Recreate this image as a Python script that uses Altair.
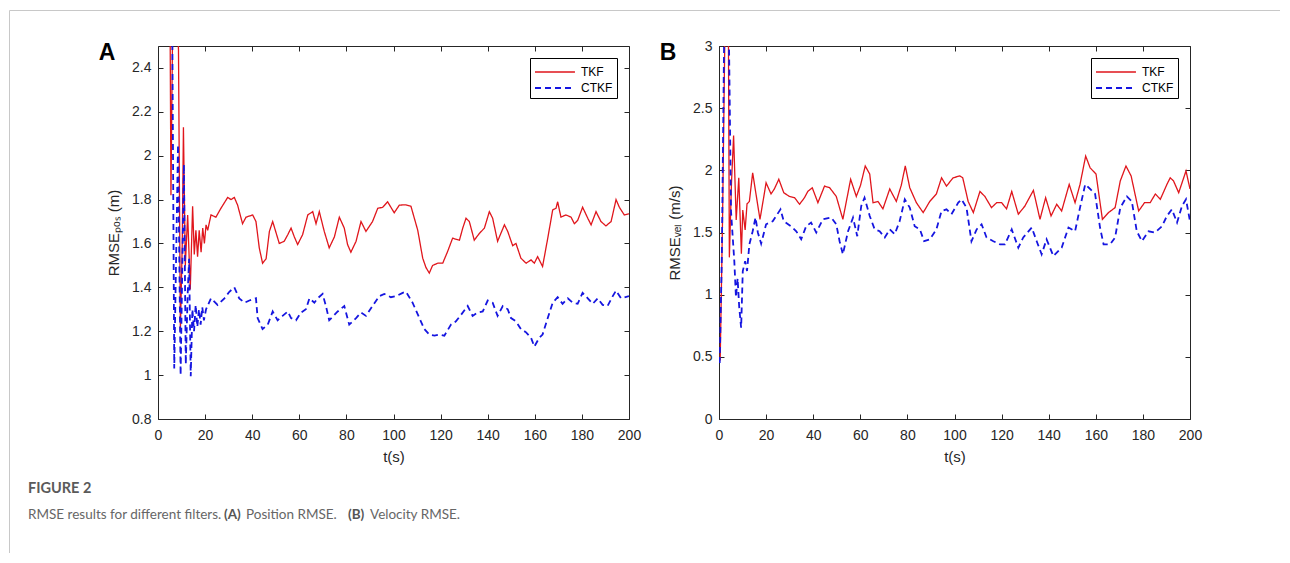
import altair as alt
import pandas as pd

# ---------------- data ----------------
series_names = ["TKF", "CTKF"]
series_colors = ["#e0161c", "#1515e0"]
series_dash = [[1, 0], [6, 4]]
series_width = [1.3, 1.8]

x_ticks = [0, 20, 40, 60, 80, 100, 120, 140, 160, 180, 200]
t_domain = [0, 200]

pos_domain = [0.8, 2.5]
pos_y_ticks = [0.8, 1.0, 1.2, 1.4, 1.6, 1.8, 2.0, 2.2, 2.4]
vel_domain = [0, 3]
vel_y_ticks = [0, 0.5, 1, 1.5, 2, 2.5, 3]

# (t, RMSE) pairs, panel A (position)
pos_tkf = [
    (0, 3.4), (2, 3.2), (4, 3.0), (5.0, 2.9), (5.5, 1.82), (6.5, 2.9), (8.0, 2.7), (8.7, 2.48),
    (9.5, 1.2), (10.3, 1.6), (10.8, 2.13), (11.6, 1.5), (12.6, 1.73), (13.7, 1.39), (14.7, 1.77),
    (15.4, 1.55), (16.1, 1.66), (16.8, 1.54), (17.5, 1.66), (18.3, 1.56), (19.0, 1.67), (19.7, 1.6),
    (20.4, 1.685), (21.1, 1.66), (22.5, 1.73), (24.6, 1.72), (26.7, 1.76), (29.6, 1.81), (31.0, 1.80),
    (32.4, 1.81), (33.8, 1.775), (35.9, 1.69), (37.4, 1.72), (40.2, 1.73), (41.6, 1.70), (43.0, 1.58),
    (44.4, 1.51), (45.9, 1.53), (47.3, 1.655), (48.7, 1.70), (50.1, 1.65), (51.5, 1.60), (53.6, 1.61),
    (55.1, 1.64), (56.5, 1.67), (57.9, 1.63), (59.3, 1.595), (61.4, 1.64), (63.6, 1.73), (65.7, 1.745),
    (67.1, 1.69), (68.5, 1.745), (70.6, 1.655), (72.7, 1.58), (74.9, 1.63), (77.0, 1.72), (79.1, 1.67),
    (80.5, 1.595), (81.9, 1.56), (84.1, 1.61), (86.2, 1.70), (88.3, 1.655), (91.1, 1.70), (93.3, 1.76),
    (95.4, 1.765), (97.5, 1.79), (100.3, 1.74), (102.5, 1.775), (105.3, 1.776), (107.4, 1.77),
    (110.3, 1.66), (112.4, 1.533), (113.8, 1.49), (115.2, 1.465), (116.6, 1.50), (118.8, 1.51),
    (120.9, 1.51), (123.0, 1.564), (125.1, 1.624), (128.0, 1.615), (129.4, 1.67), (130.8, 1.715),
    (132.2, 1.70), (134.3, 1.615), (136.4, 1.645), (138.6, 1.67), (140.7, 1.745), (142.1, 1.715),
    (144.2, 1.61), (147.1, 1.685), (148.5, 1.655), (150.6, 1.59), (152.0, 1.60), (154.1, 1.533),
    (156.3, 1.51), (158.4, 1.525), (159.8, 1.51), (161.2, 1.54), (163.3, 1.495), (165.5, 1.624),
    (167.6, 1.753), (169.0, 1.76), (169.7, 1.79), (171.1, 1.72), (173.2, 1.73), (175.4, 1.72),
    (176.8, 1.69), (178.2, 1.705), (180.3, 1.765), (182.5, 1.715), (183.9, 1.685), (186.0, 1.745),
    (188.1, 1.70), (190.2, 1.68), (192.4, 1.70), (194.5, 1.80), (195.9, 1.765), (198.0, 1.73),
    (200.0, 1.735),
]
pos_ctkf = [
    (0, 3.6), (3, 3.3), (6.0, 2.7), (6.9, 1.03), (8.5, 2.05), (9.6, 1.0), (11.0, 1.96), (11.8, 1.05),
    (12.6, 1.37), (13.2, 1.53), (13.9, 0.995), (14.6, 1.3), (15.3, 1.2), (16.0, 1.32), (16.7, 1.22),
    (17.4, 1.3), (18.1, 1.23), (18.8, 1.31), (19.5, 1.25), (20.4, 1.30), (22.5, 1.35), (25.3, 1.32),
    (28.2, 1.35), (30.3, 1.38), (32.4, 1.40), (34.5, 1.35), (36.7, 1.33), (38.8, 1.34), (41.6, 1.35),
    (42.3, 1.26), (44.4, 1.21), (46.6, 1.23), (48.7, 1.29), (50.8, 1.25), (52.9, 1.27), (55.1, 1.29),
    (56.5, 1.26), (58.6, 1.25), (60.7, 1.285), (62.8, 1.30), (64.3, 1.35), (66.4, 1.33), (67.8, 1.35),
    (69.9, 1.37), (71.3, 1.315), (72.7, 1.25), (76.3, 1.29), (79.1, 1.315), (81.2, 1.23), (84.1, 1.26),
    (86.2, 1.285), (88.3, 1.27), (91.1, 1.315), (94.0, 1.36), (96.1, 1.37), (98.9, 1.355),
    (101.1, 1.36), (103.9, 1.375), (105.3, 1.38), (108.1, 1.33), (111.0, 1.26), (113.1, 1.21),
    (115.2, 1.185), (117.4, 1.18), (119.5, 1.185), (121.6, 1.18), (124.4, 1.23), (126.5, 1.245),
    (128.7, 1.275), (131.5, 1.315), (133.6, 1.27), (135.7, 1.285), (137.9, 1.29), (140.0, 1.34),
    (142.1, 1.33), (144.2, 1.27), (146.4, 1.315), (148.5, 1.30), (149.9, 1.26), (152.0, 1.245),
    (154.1, 1.21), (156.3, 1.195), (158.4, 1.17), (159.8, 1.13), (161.9, 1.17), (163.3, 1.185),
    (165.5, 1.26), (167.6, 1.33), (169.7, 1.355), (171.8, 1.325), (174.0, 1.35), (176.1, 1.33),
    (178.2, 1.325), (180.3, 1.375), (182.5, 1.35), (184.6, 1.325), (186.7, 1.35), (188.8, 1.32),
    (190.9, 1.315), (193.1, 1.36), (194.5, 1.385), (196.6, 1.35), (200.0, 1.36),
]

# (t, RMSE) pairs, panel B (velocity)
vel_tkf = [
    (0.5, 0.47), (1.5, 1.6), (2.5, 3.1), (3.3, 3.5), (4.0, 3.1), (4.4, 1.30), (5.3, 1.9), (6.2, 2.28),
    (7.3, 1.6), (8.4, 1.94), (9.5, 1.33), (10.1, 1.68), (11.1, 1.52), (11.9, 1.73), (12.9, 1.75),
    (14.3, 1.98), (15.7, 1.81), (17.4, 1.606), (18.6, 1.74), (20.0, 1.90), (22.1, 1.81), (23.5, 1.85),
    (25.4, 1.928), (27.5, 1.82), (29.9, 1.79), (32.1, 1.78), (34.2, 1.727), (36.3, 1.78), (37.7, 1.83),
    (39.6, 1.86), (42.0, 1.74), (44.8, 1.873), (47.0, 1.86), (49.8, 1.79), (52.6, 1.606), (55.9, 1.928),
    (58.3, 1.79), (60.1, 1.88), (62.1, 2.035), (64.0, 1.97), (65.4, 1.74), (67.5, 1.75), (69.6, 1.69),
    (72.5, 1.85), (75.3, 1.75), (77.4, 1.88), (79.1, 2.035), (81.0, 1.86), (83.8, 1.74), (86.7, 1.66),
    (89.5, 1.75), (92.3, 1.81), (94.5, 1.94), (96.6, 1.873), (99.4, 1.94), (102.3, 1.955),
    (103.5, 1.94), (105.8, 1.75), (108.0, 1.66), (110.8, 1.83), (112.9, 1.79), (115.7, 1.70),
    (117.9, 1.74), (120.0, 1.74), (122.1, 1.69), (124.3, 1.83), (127.1, 1.647), (129.9, 1.713),
    (133.5, 1.839), (136.3, 1.606), (138.7, 1.78), (141.0, 1.633), (143.4, 1.727), (145.5, 1.673),
    (148.7, 1.887), (151.2, 1.74), (153.3, 1.887), (155.7, 2.115), (157.6, 2.02), (160.1, 1.97),
    (162.8, 1.606), (165.4, 1.66), (168.2, 1.70), (170.4, 1.915), (172.8, 2.035), (175.0, 1.955),
    (178.2, 1.673), (180.7, 1.74), (183.1, 1.74), (185.3, 1.81), (187.4, 1.767), (190.2, 1.887),
    (191.6, 1.94), (193.0, 1.915), (195.2, 1.82), (198.3, 1.995), (200.0, 1.85),
]
vel_ctkf = [
    (0.3, 0.45), (1.2, 1.3), (2.2, 3.1), (3.0, 3.6), (4.2, 3.1), (5.1, 1.67), (6.5, 1.27), (7.2, 0.98),
    (7.9, 1.13), (8.6, 0.895), (9.4, 0.734), (10.1, 1.19), (11.1, 1.27), (11.9, 1.19), (12.9, 1.405),
    (14.3, 1.51), (15.5, 1.62), (16.5, 1.50), (17.9, 1.41), (20.0, 1.566), (22.8, 1.59), (26.1, 1.686),
    (27.5, 1.59), (30.6, 1.55), (32.8, 1.51), (34.9, 1.445), (37.0, 1.55), (39.1, 1.58), (41.3, 1.50),
    (44.1, 1.606), (47.7, 1.62), (49.8, 1.566), (51.2, 1.43), (52.6, 1.325), (54.8, 1.51), (56.9, 1.62),
    (58.7, 1.47), (60.4, 1.713), (61.8, 1.78), (64.0, 1.633), (66.1, 1.525), (68.2, 1.51), (70.4, 1.46),
    (72.5, 1.525), (74.6, 1.486), (76.7, 1.59), (78.9, 1.767), (81.0, 1.70), (83.1, 1.55), (85.3, 1.525),
    (87.1, 1.43), (89.5, 1.445), (92.3, 1.525), (94.5, 1.673), (96.6, 1.686), (98.7, 1.647),
    (101.6, 1.74), (103.0, 1.767), (105.1, 1.70), (107.2, 1.43), (109.4, 1.525), (111.5, 1.566),
    (113.6, 1.46), (116.5, 1.43), (119.3, 1.405), (121.4, 1.405), (124.3, 1.525), (127.1, 1.378),
    (129.2, 1.46), (132.8, 1.54), (134.9, 1.43), (137.0, 1.325), (139.1, 1.445), (142.0, 1.31),
    (145.5, 1.378), (148.4, 1.54), (151.2, 1.51), (153.3, 1.70), (155.5, 1.887), (157.6, 1.85),
    (159.7, 1.81), (161.8, 1.54), (163.3, 1.405), (166.1, 1.405), (168.2, 1.46), (170.4, 1.70),
    (173.2, 1.79), (175.3, 1.75), (177.4, 1.51), (179.6, 1.43), (182.4, 1.51), (185.2, 1.50),
    (188.1, 1.55), (190.2, 1.633), (192.3, 1.686), (194.5, 1.58), (196.6, 1.713), (198.3, 1.767),
    (200.0, 1.59),
]

# ---------------- styling ----------------
W, H = 471, 373
FONT = "Liberation Sans"
CAP_FONT = "Lato"
INK = "#262626"
FRAME = "#c8c8c8"


def long_df(tkf, ctkf):
    rows = [{"t": t, "v": v, "series": "TKF"} for t, v in tkf]
    rows += [{"t": t, "v": v, "series": "CTKF"} for t, v in ctkf]
    return pd.DataFrame(rows)


def panel(df, ydomain, yticks, ytitle, letter, extra=()):
    xs = alt.Scale(domain=t_domain, nice=False, zero=False)
    ys = alt.Scale(domain=ydomain, nice=False, zero=False)
    legend = alt.Legend(
        title=None, orient="top-right", offset=12, fillColor="white", strokeColor="black",
        padding=4, symbolType="M-1,0H3.44", symbolSize=324, symbolStrokeWidth=1.4,
        labelFont=FONT, labelFontSize=12, labelColor="black", labelOffset=27, rowPadding=0,
    )
    lines = alt.Chart(df).mark_line(clip=True).encode(
        x=alt.X("t:Q", scale=xs, axis=alt.Axis(
            orient="bottom", values=x_ticks, title="t(s)", ticks=False, domain=False, grid=False,
            labelFont=FONT, labelFontSize=14, labelColor=INK, labelPadding=9, labelFlush=False,
            titleFont=FONT, titleFontSize=15, titleFontWeight="normal", titleColor=INK, titlePadding=7)),
        y=alt.Y("v:Q", scale=ys, axis=alt.Axis(
            orient="left", values=yticks, format="~g", title=ytitle, ticks=False, domain=False,
            grid=False, labelFont=FONT, labelFontSize=14, labelColor=INK, labelPadding=7,
            labelFlush=False, titleFont=FONT, titleFontSize=15, titleFontWeight="normal",
            titleColor=INK, titlePadding=10)),
        color=alt.Color("series:N", scale=alt.Scale(domain=series_names, range=series_colors),
                        legend=legend),
        strokeDash=alt.StrokeDash("series:N", scale=alt.Scale(domain=series_names, range=series_dash),
                                  legend=legend),
        strokeWidth=alt.StrokeWidth("series:N", scale=alt.Scale(domain=series_names, range=series_width),
                                    legend=None),
    )
    ends = pd.DataFrame({"t": t_domain, "v": ydomain})
    tick_opts = dict(labels=False, domain=False, grid=False, ticks=True, tickSize=5,
                     tickColor=INK, tickWidth=1, title=None)
    inner_bl = alt.Chart(ends).mark_point(opacity=0, clip=True).encode(
        x=alt.X("t:Q", scale=xs, axis=alt.Axis(orient="top", offset=-H, values=x_ticks, **tick_opts)),
        y=alt.Y("v:Q", scale=ys, axis=alt.Axis(orient="right", offset=-W, values=yticks, **tick_opts)),
    )
    inner_tr = alt.Chart(ends).mark_point(opacity=0, clip=True).encode(
        x=alt.X("t:Q", scale=xs, axis=alt.Axis(orient="bottom", offset=-H, values=x_ticks, **tick_opts)),
        y=alt.Y("v:Q", scale=ys, axis=alt.Axis(orient="left", offset=-W, values=yticks, **tick_opts)),
    )
    tag = alt.Chart(alt.Data(values=[{}])).mark_text(
        text=letter, font=FONT, fontSize=23, fontWeight="bold", color="black",
        align="center", baseline="middle",
    ).encode(x=alt.value(-51), y=alt.value(7))
    return alt.layer(lines, inner_bl, inner_tr, tag, *extra).resolve_axis(
        x="independent", y="independent"
    ).properties(width=W, height=H, view=alt.ViewBackground(stroke=INK, strokeWidth=1))


deco = alt.Data(values=[{}])
frame_left = alt.Chart(deco).mark_rule(color=FRAME, strokeWidth=1).encode(
    x=alt.value(-148.5), y=alt.value(-35.5), y2=alt.value(507))
frame_top = alt.Chart(deco).mark_rule(color=FRAME, strokeWidth=1).encode(
    x=alt.value(-148.5), x2=alt.value(1122), y=alt.value(-35.5))

panel_a = panel(long_df(pos_tkf, pos_ctkf), pos_domain, pos_y_ticks,
                "RMSE\u209a\u2092\u209b (m)", "A", extra=(frame_left, frame_top))
panel_b = panel(long_df(vel_tkf, vel_ctkf), vel_domain, vel_y_ticks,
                "RMSE\u1d65\u2091\u2097 (m/s)", "B")

row = alt.hconcat(panel_a, panel_b, spacing=90, bounds="flush").resolve_scale(
    x="independent", y="independent", color="independent", strokeDash="independent",
    strokeWidth="independent")


def cap_text(text, x, y, weight="normal", size=13.5, color="#666666", font=CAP_FONT):
    return alt.Chart(deco).mark_text(
        text=text, font=font, fontSize=size, fontWeight=weight, color=color,
        align="left", baseline="middle",
    ).encode(x=alt.value(x), y=alt.value(y))


caption = alt.layer(
    cap_text("FIGURE 2", -130, 60, weight="bold", size=14.5, color="#5a5a5a"),
    cap_text("RMSE results for different filters.", -130, 86),
    cap_text("(A)", 66, 86, weight="bold", color="#555555"),
    cap_text("Position RMSE.", 88, 86),
    cap_text("(B)", 190, 86, weight="bold", color="#555555"),
    cap_text("Velocity RMSE.", 212, 86),
).properties(width=1000, height=100, view=alt.ViewBackground(strokeOpacity=0))

# the panel row is laid out flush, so the caption offset is the plot height plus the gap
chart = alt.vconcat(row, caption, spacing=H + 10, bounds="flush").properties(
    padding={"left": 0, "top": 1, "right": 0, "bottom": 0},
    background="white",
)

chart.save("out.html", embed_options={"renderer": "svg", "actions": False})
